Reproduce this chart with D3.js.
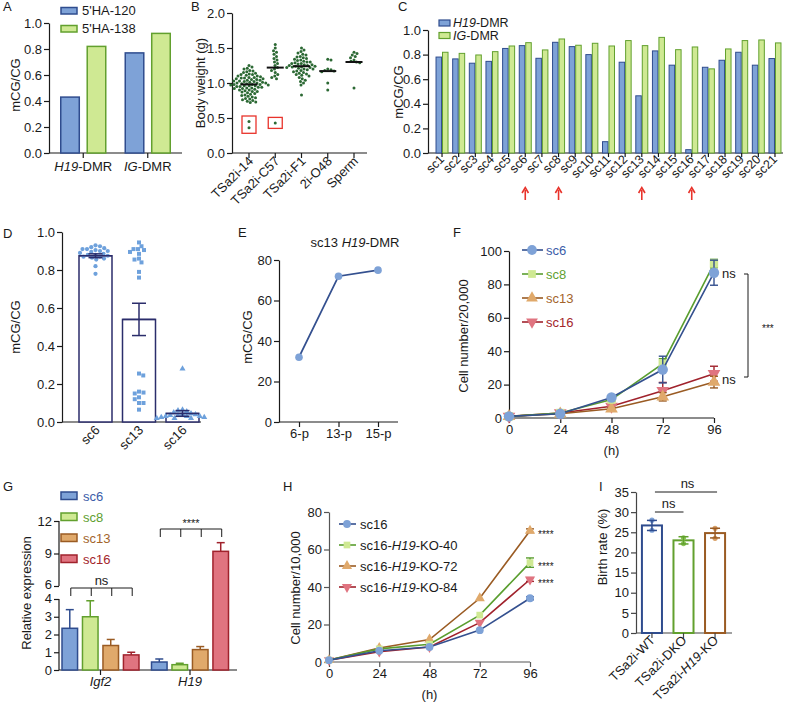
<!DOCTYPE html>
<html><head><meta charset="utf-8">
<script src="https://cdn.jsdelivr.net/npm/d3@7"></script>
<style>body{margin:0;background:#fff}</style>
</head><body>
<script>
// ================= DATA =================
// Panel A
const aCategories = ["H19-DMR", "IG-DMR"];
const aSeries = ["5'HA-120", "5'HA-138"];
const aHA120 = [0.43, 0.77];
const aHA138 = [0.82, 0.92];
const aTicks = [0, 0.2, 0.4, 0.6, 0.8, 1.0];

// Panel B
const bCategories = ["TSa2i-14", "TSa2i-C57", "TSa2i-F1", "2i-O48", "Sperm"];
const bTSa2i14 = [1.25,1.23,1.21,1.2,1.18,1.17,1.16,1.15,1.14,1.13,1.12,1.12,1.11,1.1,1.1,1.09,1.08,1.08,1.07,1.07,1.06,1.06,1.05,1.05,1.04,1.04,1.03,1.03,1.02,1.02,1.01,1.01,1.0,1.0,1.0,0.99,0.99,0.98,0.98,0.98,0.97,0.97,0.96,0.96,0.96,0.95,0.95,0.94,0.94,0.93,0.93,0.92,0.92,0.91,0.9,0.9,0.89,0.88,0.88,0.87,0.86,0.85,0.84,0.83,0.82,0.81,0.8,0.79,0.78,0.77,0.76,0.75,0.74,0.73,0.72,0.45,0.36];
const bTSa2iC57 = [1.55,1.5,1.46,1.44,1.41,1.38,1.35,1.33,1.3,1.28,1.25,1.22,1.2,1.18,1.15,1.12,1.1,1.08,1.06,0.43];
const bTSa2iF1 = [1.5,1.47,1.45,1.43,1.41,1.4,1.38,1.37,1.36,1.35,1.34,1.33,1.32,1.31,1.3,1.3,1.29,1.28,1.28,1.27,1.26,1.26,1.25,1.25,1.24,1.24,1.23,1.23,1.22,1.22,1.21,1.2,1.2,1.19,1.18,1.17,1.16,1.15,1.14,1.13,1.12,1.11,1.1,1.08,1.06,1.04,1.02,1.0,0.97,0.83];
const b2iO48 = [1.34,1.33,1.2,1.19,1.18,1.17,1.16,1.0,0.9];
const bSperm = [1.44,1.42,1.4,1.38,1.36,1.33,1.31,1.3,1.29,0.93];
const bMedians = [0.98, 1.22, 1.24, 1.17, 1.30];
const bTicks = [0, 0.5, 1.0, 1.5, 2.0];

// Panel C
const cClones = ["sc1","sc2","sc3","sc4","sc5","sc6","sc7","sc8","sc9","sc10","sc11","sc12","sc13","sc14","sc15","sc16","sc17","sc18","sc19","sc20","sc21"];
const cSeries = ["H19-DMR", "IG-DMR"];
const cH19 = [0.78,0.765,0.73,0.745,0.85,0.873,0.77,0.9,0.865,0.8,0.092,0.738,0.465,0.83,0.714,0.027,0.697,0.754,0.819,0.714,0.768];
const cIG  = [0.819,0.81,0.797,0.824,0.87,0.897,0.838,0.927,0.876,0.892,0.87,0.914,0.873,0.94,0.84,0.862,0.684,0.846,0.914,0.919,0.895];
const cMarked = ["sc6", "sc8", "sc13", "sc16"];
const cTicks = [0, 0.2, 0.4, 0.6, 0.8, 1.0];

// Panel D
const dClones = ["sc6", "sc13", "sc16"];
const dSc6 = [0.93,0.925,0.92,0.915,0.91,0.91,0.905,0.9,0.9,0.895,0.89,0.885,0.88,0.88,0.875,0.87,0.87,0.865,0.86,0.855,0.82,0.78];
const dSc13 = [0.945,0.925,0.91,0.91,0.905,0.895,0.885,0.86,0.855,0.84,0.79,0.76,0.255,0.245,0.16,0.155,0.15,0.13,0.12,0.10,0.10,0.065];
const dSc16 = [0.28,0.065,0.06,0.055,0.05,0.045,0.04,0.04,0.035,0.035,0.03,0.03,0.03,0.025,0.025,0.02,0.02,0.02];
const dMeans = [0.875, 0.54, 0.045];
const dSem = [0.01, 0.085, 0.015];
const dTicks = [0, 0.2, 0.4, 0.6, 0.8, 1.0];

// Panel E
const ePassages = ["6-p", "13-p", "15-p"];
const eValues = [32, 72, 75];
const eTicks = [0, 20, 40, 60, 80];

// Panel F
const fHours = [0, 24, 48, 72, 96];
const fSeries = ["sc6", "sc8", "sc13", "sc16"];
const fSc6 = [1, 2.5, 12.3, 29, 87];   const fSc6Err = [0.3, 0.5, 1, 8, 7.5];
const fSc8 = [1, 3, 11, 32.5, 92.5];   const fSc8Err = [0.3, 0.5, 1, 3, 2.5];
const fSc13 = [1, 2.5, 5.5, 12.7, 21.5]; const fSc13Err = [0.3, 0.4, 0.8, 2.5, 3.5];
const fSc16 = [1, 3, 7, 16.3, 26.5];   const fSc16Err = [0.3, 0.5, 1, 5, 4.5];
const fTicks = [0, 20, 40, 60, 80, 100];

// Panel G
const gGenes = ["Igf2", "H19"];
const gSeries = ["sc6", "sc8", "sc13", "sc16"];
const gIgf2 = [2.35, 3.0, 1.38, 0.85]; const gIgf2Err = [1.05, 0.9, 0.34, 0.15];
const gH19 = [0.45, 0.3, 1.15, 9.2];   const gH19Err = [0.17, 0.08, 0.17, 0.8];
const gTicksLow = [0, 1, 2, 3, 4];
const gTicksHigh = [6, 9, 12];

// Panel H
const hHours = [0, 24, 48, 72, 96];
const hSeries = ["sc16", "sc16-H19-KO-40", "sc16-H19-KO-72", "sc16-H19-KO-84"];
const hSc16 = [1, 6, 8, 17, 34];
const hKO40 = [1, 7, 9.5, 25, 53];
const hKO72 = [1, 7.5, 12, 34, 70];
const hKO84 = [1, 5.5, 8, 21, 44];
const hErr96 = [0.8, 2.5, 1, 1];
const hTicks = [0, 20, 40, 60, 80];

// Panel I
const iGroups = ["TSa2i-WT", "TSa2i-DKO", "TSa2i-H19-KO"];
const iMeans = [26.7, 23.0, 24.8];
const iErr = [1.25, 0.9, 1.2];
const iPoints = [[28, 25.5], [23.6, 22.2], [26, 23.5]];
const iTicks = [0, 5, 10, 15, 20, 25, 30, 35];

// ================= STYLE =================
const FONT = "'Liberation Sans', Arial, Helvetica, sans-serif";
const INK = "#1a1a1a";
const BLUE_F = "#7ea2d7", BLUE_S = "#2f4c8e";
const GREEN_F = "#cfe993", GREEN_S = "#62a02e";
const BROWN_F = "#e0a96b", BROWN_S = "#9a5b23";
const RED_F = "#e07480", RED_S = "#a0222c";
const fills = [BLUE_F, GREEN_F, BROWN_F, RED_F];
const strokes = [BLUE_S, GREEN_S, BROWN_S, RED_S];
const textCols = ["#3b5ca8", "#5fa030", "#a3652b", "#a3262a"];

const svg = d3.select("body").append("svg").attr("width", 786).attr("height", 708)
  .attr("font-family", FONT);

function rich(t, str) {
  str.split(/(H19|IG|Igf2)/).filter(s => s.length).forEach(s => {
    const sp = t.append("tspan").text(s);
    if (/^(H19|IG|Igf2)$/.test(s)) sp.attr("font-style", "italic");
  });
  return t;
}
function text(x, y, str, o = {}) {
  const t = svg.append("text").attr("x", x).attr("y", y)
    .attr("font-size", o.size || 13).attr("fill", o.fill || INK)
    .attr("text-anchor", o.anchor || "start");
  if (o.rotate != null) t.attr("transform", `rotate(${o.rotate},${x},${y})`);
  if (o.baseline) t.attr("dominant-baseline", o.baseline);
  return rich(t, str);
}
function ylabel(x, y, str) { return text(x, y, str, {anchor: "middle", rotate: -90, baseline: "central"}); }
function line(x1, y1, x2, y2, stroke = INK, w = 1.2) {
  return svg.append("line").attr("x1", x1).attr("y1", y1).attr("x2", x2).attr("y2", y2)
    .attr("stroke", stroke).attr("stroke-width", w);
}
function styleAxis(g, color, fs) {
  g.attr("font-family", null).attr("font-size", null);
  g.selectAll("text").attr("font-size", fs || 13).attr("fill", INK).attr("font-family", FONT);
  g.selectAll("line,path").attr("stroke", color || INK).attr("stroke-width", 1.2);
}
function leftAxis(scale, ticks, fmt, x, color, fs) {
  const g = svg.append("g").attr("transform", `translate(${x},0)`)
    .call(d3.axisLeft(scale).tickValues(ticks).tickFormat(fmt).tickSize(5).tickPadding(2).tickSizeOuter(0));
  styleAxis(g, color, fs);
  return g;
}
function bottomTicks(scale, ticks, fmt, y, color) {
  const g = svg.append("g").attr("transform", `translate(0,${y})`)
    .call(d3.axisBottom(scale).tickValues(ticks).tickFormat(fmt).tickSize(5).tickPadding(2).tickSizeOuter(0));
  g.select(".domain").remove();
  styleAxis(g, color);
  return g;
}
function swarm(values, y, r, gap = 0.3) {
  const pts = values.map(v => ({v, y: y(v)})).sort((a, b) => a.y - b.y);
  const placed = []; const d = 2 * r + gap;
  pts.forEach((p, i) => {
    let x = null;
    for (let k = 0; k < 600 && x === null; k++) {
      const cs = k === 0 ? [0] : (i % 2 ? [k * 0.25, -k * 0.25] : [-k * 0.25, k * 0.25]);
      for (const c of cs) {
        if (placed.every(q => (q.x - c) ** 2 + (q.y - p.y) ** 2 >= d * d)) { x = c; break; }
      }
    }
    p.x = x; placed.push(p);
  });
  return pts;
}
const f1 = d3.format(".1f");
const f0 = d3.format("d");

// ================= PANEL A =================
text(3, 11, "A");
{
  const y = d3.scaleLinear().domain([0, 1]).range([153, 23]);
  const x0 = d3.scaleBand().domain(aCategories).range([51, 180]);
  const x1 = d3.scaleBand().domain(aSeries).range([0, 45]).paddingInner(0.3);
  const vals = [aHA120, aHA138];
  leftAxis(y, aTicks, f1, 49);
  line(49, 153, 182, 153);
  aCategories.forEach((c, ci) => {
    const cx = x0(c) + x0.bandwidth() / 2;
    aSeries.forEach((s, si) => {
      svg.append("rect").attr("x", cx - 22.5 + x1(s)).attr("y", y(vals[si][ci]))
        .attr("width", x1.bandwidth()).attr("height", y(0) - y(vals[si][ci]))
        .attr("fill", fills[si]).attr("stroke", strokes[si]).attr("stroke-width", 1.5);
    });
    line(cx, 153, cx, 158);
    text(cx, 171, c, {anchor: "middle"});
  });
  aSeries.forEach((s, si) => {
    svg.append("rect").attr("x", 61).attr("y", 7.5 + si * 18).attr("width", 16).attr("height", 6.5)
      .attr("fill", fills[si]).attr("stroke", strokes[si]).attr("stroke-width", 1.5);
    text(82, 15 + si * 18, s);
  });
  ylabel(15, 85, "mCG/CG");
}

// ================= PANEL B =================
text(191, 11, "B");
{
  const y = d3.scaleLinear().domain([0, 2]).range([153, 13]);
  const x = d3.scalePoint().domain(bCategories).range([249, 354]);
  leftAxis(y, bTicks, f1, 232);
  line(232, 153, 367, 153);
  const groups = [bTSa2i14, bTSa2iC57, bTSa2iF1, b2iO48, bSperm];
  bCategories.forEach((c, ci) => {
    const cx = x(c);
    line(cx, 153, cx, 158);
    text(cx + 5, 162, c, {anchor: "end", rotate: -45, size: 13});
    const pts = swarm(groups[ci], y, 1.5, 0.2);
    svg.append("g").selectAll("circle").data(pts).join("circle")
      .attr("cx", d => cx + d.x).attr("cy", d => d.y).attr("r", 1.5).attr("fill", "#2c6934");
    const my = y(bMedians[ci]);
    line(cx - 8.5, my, cx + 8.5, my, "#111", 2);
    const low = pts.filter(p => p.v < 0.5);
    if (low.length) {
      const ys = low.map(p => p.y);
      const y0 = d3.min(ys) - 5.5, y1 = d3.max(ys) + 5.5;
      svg.append("rect").attr("x", cx - 7).attr("y", y0).attr("width", 14).attr("height", y1 - y0)
        .attr("fill", "none").attr("stroke", "#e8332b").attr("stroke-width", 1.3);
    }
  });
  ylabel(200, 83, "Body weight (g)");
}

// ================= PANEL C =================
text(398, 11, "C");
{
  const y = d3.scaleLinear().domain([0, 1]).range([153, 30]);
  const x = d3.scaleBand().domain(cClones).range([433.7, 783.3]);
  const x1 = d3.scaleBand().domain(cSeries).range([-6, 6]).paddingInner(0.15);
  leftAxis(y, cTicks, f1, 428);
  line(428, 153, 783, 153);
  const vals = [cH19, cIG];
  cClones.forEach((c, ci) => {
    const cx = x(c) + x.bandwidth() / 2;
    cSeries.forEach((s, si) => {
      svg.append("rect").attr("x", cx + x1(s)).attr("y", y(vals[si][ci]))
        .attr("width", x1.bandwidth()).attr("height", y(0) - y(vals[si][ci]))
        .attr("fill", fills[si]).attr("stroke", strokes[si]).attr("stroke-width", 1);
    });
    line(cx, 153, cx, 157);
    text(cx + 3, 160, c, {anchor: "end", rotate: -45, size: 12.5});
  });
  cMarked.forEach(c => {
    const cx = x(c) + x.bandwidth() / 2;
    line(cx, 190, cx, 200, "#e8332b", 1.6);
    svg.append("path").attr("d", `M${cx - 3.2},${193} L${cx},${187.5} L${cx + 3.2},${193}`)
      .attr("fill", "none").attr("stroke", "#e8332b").attr("stroke-width", 1.6);
  });
  cSeries.forEach((s, si) => {
    svg.append("rect").attr("x", 439).attr("y", 20 + si * 12.5).attr("width", 11).attr("height", 6)
      .attr("fill", fills[si]).attr("stroke", strokes[si]).attr("stroke-width", 1.2);
    text(453, 27 + si * 12.5, s, {size: 12.5});
  });
  ylabel(398, 92, "mCG/CG");
}

// ================= PANEL D =================
text(3, 238, "D");
{
  const y = d3.scaleLinear().domain([0, 1]).range([422, 232]);
  const x = d3.scaleBand().domain(dClones).range([73.75, 204.25]).paddingInner(0.2414).paddingOuter(0.1207);
  leftAxis(y, dTicks, f1, 62);
  line(62, 422, 201, 422);
  const NAVY = "#2b2d6b";
  const sets = [dSc6, dSc13, dSc16];
  const syms = [d3.symbolCircle, d3.symbolSquare, d3.symbolTriangle];
  const sizes = [14, 16, 16];
  dClones.forEach((c, ci) => {
    const bx = x(c);
    svg.append("rect").attr("x", bx).attr("y", y(dMeans[ci])).attr("width", x.bandwidth())
      .attr("height", y(0) - y(dMeans[ci])).attr("fill", "#fff").attr("stroke", NAVY).attr("stroke-width", 1.5);
  });
  dClones.forEach((c, ci) => {
    const cx = x(c) + x.bandwidth() / 2;
    const pts = swarm(sets[ci], y, 2.1, 0.3);
    svg.append("g").selectAll("path").data(pts).join("path")
      .attr("transform", d => `translate(${cx + d.x},${d.y})`)
      .attr("d", d3.symbol().type(syms[ci]).size(sizes[ci])).attr("fill", "#6ea1dc");
  });
  dClones.forEach((c, ci) => {
    const cx = x(c) + x.bandwidth() / 2;
    const lo = y(dMeans[ci] - dSem[ci]), hi = y(dMeans[ci] + dSem[ci]);
    line(cx, lo, cx, hi, NAVY, 1.5);
    line(cx - 7, lo, cx + 7, lo, NAVY, 1.5);
    line(cx - 7, hi, cx + 7, hi, NAVY, 1.5);
    line(x(c), y(dMeans[ci]), x(c) + x.bandwidth(), y(dMeans[ci]), NAVY, 1.5);
    text(cx + 5, 431, c, {anchor: "end", rotate: -45});
  });
  ylabel(15, 327, "mCG/CG");
}

// ================= PANEL E =================
text(238, 237, "E");
{
  const y = d3.scaleLinear().domain([0, 80]).range([422, 260]);
  const x = d3.scalePoint().domain(ePassages).range([299, 378]);
  leftAxis(y, eTicks, f0, 279);
  line(279, 422, 398, 422);
  bottomTicks(x, ePassages, d => d, 422);
  svg.append("path").datum(eValues)
    .attr("d", d3.line().x((d, i) => x(ePassages[i])).y(d => y(d)))
    .attr("fill", "none").attr("stroke", "#34508f").attr("stroke-width", 1.8);
  svg.append("g").selectAll("circle").data(eValues).join("circle")
    .attr("cx", (d, i) => x(ePassages[i])).attr("cy", d => y(d)).attr("r", 3.8).attr("fill", BLUE_F);
  text(355, 247, "sc13 H19-DMR", {anchor: "middle"});
  ylabel(247, 337, "mCG/CG");
}

// ================= PANEL F =================
text(453, 237, "F");
{
  const y = d3.scaleLinear().domain([0, 100]).range([418, 251]);
  const x = d3.scaleLinear().domain([0, 96]).range([509, 714]);
  leftAxis(y, fTicks, f0, 509);
  line(509, 418, 714, 418);
  bottomTicks(x, fHours, f0, 418);
  text(611.5, 455, "(h)", {anchor: "middle"});
  const vals = [fSc6, fSc8, fSc13, fSc16];
  const errs = [fSc6Err, fSc8Err, fSc13Err, fSc16Err];
  const syms = [d3.symbolCircle, d3.symbolSquare, d3.symbolTriangle, d3.symbolTriangle];
  const lineCols = ["#34508f", "#5a9e2f", "#9a5b23", "#a0222c"];
  [3, 2, 1, 0].forEach(si => {
    svg.append("path").datum(vals[si])
      .attr("d", d3.line().x((d, i) => x(fHours[i])).y(d => y(d)))
      .attr("fill", "none").attr("stroke", lineCols[si]).attr("stroke-width", 1.6);
    vals[si].forEach((v, i) => {
      const cx = x(fHours[i]), lo = y(v - errs[si][i]), hi = y(v + errs[si][i]);
      line(cx, lo, cx, hi, lineCols[si], 1.4);
      line(cx - 4, lo, cx + 4, lo, lineCols[si], 1.4);
      line(cx - 4, hi, cx + 4, hi, lineCols[si], 1.4);
    });
    svg.append("g").selectAll("path").data(vals[si]).join("path")
      .attr("transform", (d, i) => `translate(${x(fHours[i])},${y(d)})${si === 3 ? " rotate(180)" : ""}`)
      .attr("d", d3.symbol().type(syms[si]).size(si === 0 ? 85 : 70)).attr("fill", fills[si]);
  });
  fSeries.forEach((s, si) => {
    const ly = 250 + si * 24;
    line(522, ly, 543, ly, lineCols[si], 1.6);
    svg.append("path").attr("transform", `translate(532,${ly})${si === 3 ? " rotate(180)" : ""}`)
      .attr("d", d3.symbol().type(syms[si]).size(si === 0 ? 75 : 60)).attr("fill", fills[si]);
    text(546, ly + 5, s, {fill: textCols[si]});
  });
  text(722, 278, "ns");
  text(722, 384, "ns");
  line(744, 274, 748, 274, INK, 1);
  line(748, 274, 748, 377, INK, 1);
  line(744, 377, 748, 377, INK, 1);
  text(762, 332, "***", {size: 10});
  ylabel(463, 336, "Cell number/20,000");
}

// ================= PANEL G =================
text(3, 491, "G");
{
  const y = d3.scaleLinear().domain([0, 4, 6, 12]).range([670, 599, 586, 521]);
  const x0 = d3.scaleBand().domain(gGenes).range([55.75, 234.75]);
  const x1 = d3.scaleBand().domain(gSeries).range([-38.5, 38.5]).paddingInner(0.24);
  const gl = leftAxis(y, gTicksLow, f0, 59); gl.select(".domain").remove();
  const gh = leftAxis(y, gTicksHigh, f0, 59); gh.select(".domain").remove();
  gl.selectAll(".tick text").filter(d => d === 4).attr("dy", "0.25em");
  gh.selectAll(".tick text").filter(d => d === 6).attr("dy", "0.2em");
  line(59, y(0), 59, y(4)); line(59, y(6), 59, y(12));
  line(59, 670, 237, 670);
  const vals = [gIgf2, gH19], errs = [gIgf2Err, gH19Err];
  gGenes.forEach((g, gi) => {
    const gx = x0(g) + x0.bandwidth() / 2;
    gSeries.forEach((s, si) => {
      const bx = gx + x1(s), cx = bx + x1.bandwidth() / 2;
      const v = vals[gi][si], top = y(v + errs[gi][si]);
      line(cx, y(v), cx, top, strokes[si], 1.5);
      line(cx - 4, top, cx + 4, top, strokes[si], 1.5);
      svg.append("rect").attr("x", bx).attr("y", y(v)).attr("width", x1.bandwidth()).attr("height", y(0) - y(v))
        .attr("fill", fills[si]).attr("stroke", strokes[si]).attr("stroke-width", 1.5);
    });
    line(gx, 670, gx, 675);
    text(gx, 686, g, {anchor: "middle"});
  });
  const brk = (gi, by, label, lsize, ly) => {
    const gx = x0(gGenes[gi]) + x0.bandwidth() / 2;
    const xs = gSeries.map(s => gx + x1(s) + x1.bandwidth() / 2 + 1);
    line(xs[0], by, xs[3], by, INK, 1);
    xs.forEach(xx => line(xx, by, xx, by + 8, INK, 1));
    text((xs[0] + xs[3]) / 2, ly, label, {anchor: "middle", size: lsize});
  };
  brk(0, 588, "ns", 13, 585);
  brk(1, 529, "****", 11, 527);
  gSeries.forEach((s, si) => {
    const ly = 496 + si * 21;
    svg.append("rect").attr("x", 61).attr("y", ly - 4).attr("width", 16).attr("height", 7.5)
      .attr("fill", fills[si]).attr("stroke", strokes[si]).attr("stroke-width", 1.5);
    text(83, ly + 5, s, {fill: textCols[si]});
  });
  ylabel(26, 593, "Relative expression");
}

// ================= PANEL H =================
text(283, 491, "H");
{
  const AX = "#555";
  const y = d3.scaleLinear().domain([0, 80]).range([662, 512]);
  const x = d3.scaleLinear().domain([0, 96]).range([329, 530]);
  leftAxis(y, hTicks, f0, 329, AX);
  line(329, 662, 530, 662, AX);
  bottomTicks(x, hHours, f0, 662, AX);
  text(429.5, 699, "(h)", {anchor: "middle"});
  const vals = [hSc16, hKO40, hKO72, hKO84];
  const syms = [d3.symbolCircle, d3.symbolSquare, d3.symbolTriangle, d3.symbolTriangle];
  const lineCols = ["#34508f", "#5a9e2f", "#9a5b23", "#a0222c"];
  [3, 2, 1, 0].forEach(si => {
    svg.append("path").datum(vals[si])
      .attr("d", d3.line().x((d, i) => x(hHours[i])).y(d => y(d)))
      .attr("fill", "none").attr("stroke", lineCols[si]).attr("stroke-width", 1.6);
    const cx = x(96), lo = y(vals[si][4] - hErr96[si]), hi = y(vals[si][4] + hErr96[si]);
    line(cx, lo, cx, hi, lineCols[si], 1.4);
    line(cx - 4, lo, cx + 4, lo, lineCols[si], 1.4);
    line(cx - 4, hi, cx + 4, hi, lineCols[si], 1.4);
    svg.append("g").selectAll("path").data(vals[si]).join("path")
      .attr("transform", (d, i) => `translate(${x(hHours[i])},${y(d)})${si === 3 ? " rotate(180)" : ""}`)
      .attr("d", d3.symbol().type(syms[si]).size(si === 0 ? 48 : 45)).attr("fill", fills[si]);
  });
  hSeries.forEach((s, si) => {
    const ly = 524 + si * 21;
    line(339, ly, 356, ly, lineCols[si], 1.6);
    svg.append("path").attr("transform", `translate(347,${ly})${si === 3 ? " rotate(180)" : ""}`)
      .attr("d", d3.symbol().type(syms[si]).size(si === 0 ? 48 : 45)).attr("fill", fills[si]);
    text(360, ly + 5, s);
  });
  [2, 1, 3].forEach(si => text(538, y(vals[si][4]) + 7, "****", {size: 10}));
  ylabel(295, 588, "Cell number/10,000");
}

// ================= PANEL I =================
text(599, 491, "I");
{
  const AX = "#444";
  const y = d3.scaleLinear().domain([0, 35]).range([633, 492]);
  const x = d3.scaleBand().domain(iGroups).range([636.25, 730.75]).paddingInner(0.365).paddingOuter(0.18);
  leftAxis(y, iTicks, f0, 636, AX);
  line(636, 633, 732, 633, AX);
  const cols = [BLUE_S, GREEN_S, BROWN_S];
  const dotCols = ["#7ea2d7", "#8cc65a", "#d9a067"];
  iGroups.forEach((g, gi) => {
    const bx = x(g), cx = bx + x.bandwidth() / 2;
    svg.append("rect").attr("x", bx).attr("y", y(iMeans[gi])).attr("width", x.bandwidth())
      .attr("height", y(0) - y(iMeans[gi])).attr("fill", "#fff").attr("stroke", cols[gi]).attr("stroke-width", 2);
    iPoints[gi].forEach(v => svg.append("circle").attr("cx", cx).attr("cy", y(v)).attr("r", 2.6).attr("fill", dotCols[gi]));
    const lo = y(iMeans[gi] - iErr[gi]), hi = y(iMeans[gi] + iErr[gi]);
    line(cx, lo, cx, hi, cols[gi], 1.5);
    line(cx - 5, lo, cx + 5, lo, cols[gi], 1.5);
    line(cx - 5, hi, cx + 5, hi, cols[gi], 1.5);
    line(cx, 633, cx, 638, AX);
    text(cx + 4, 641, g, {anchor: "end", rotate: -45});
  });
  const c0 = x(iGroups[0]) + x.bandwidth() / 2, c1 = x(iGroups[1]) + x.bandwidth() / 2, c2 = x(iGroups[2]) + x.bandwidth() / 2;
  line(c0 + 3, 492, c2 + 2, 492, INK, 1);
  text((c0 + c2) / 2 + 4, 488, "ns", {anchor: "middle"});
  line(c0 + 3, 512, c1, 512, INK, 1);
  text((c0 + c1) / 2 + 1, 508, "ns", {anchor: "middle"});
  ylabel(602, 547, "Birth rate (%)");
}
</script>
</body></html>
